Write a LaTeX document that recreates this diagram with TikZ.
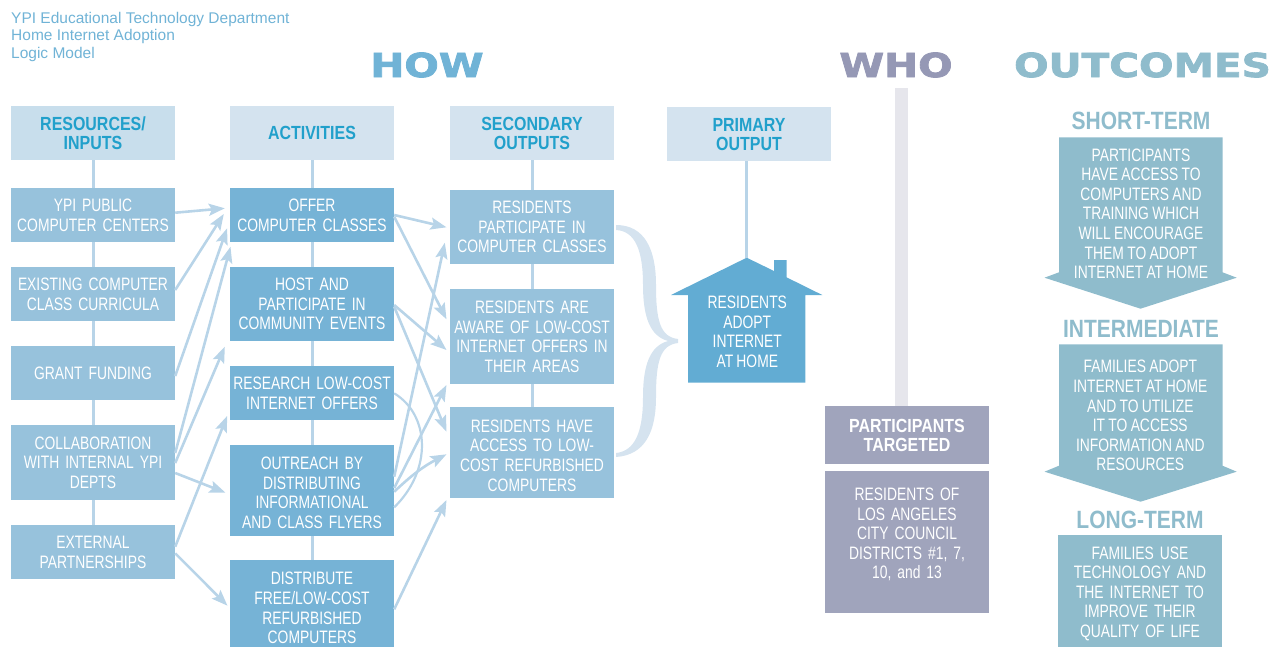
\documentclass[tikz,border=0pt]{standalone}
\usepackage{xcolor}
\usepackage{fontspec}
\usepackage{tikz}
\usetikzlibrary{positioning}
\usetikzlibrary{arrows.meta}
\setmainfont{Liberation Sans}
\newfontfamily\narrowfont[FakeStretch=0.77,WordSpace=0.85]{Liberation Sans}
\newfontfamily\headfont[FakeStretch=0.84]{Liberation Sans}
\newfontfamily\widefont[FakeStretch=1.23,FakeBold=2.5]{DejaVu Sans}
\definecolor{headfirst}{HTML}{C8DEEC}
\definecolor{headrest}{HTML}{D4E3EF}
\definecolor{headtext}{HTML}{21A0CB}
\definecolor{boxlight}{HTML}{97C2DC}
\definecolor{boxdark}{HTML}{76B3D6}
\definecolor{housecol}{HTML}{62ACD3}
\definecolor{linecol}{HTML}{B8D4E8}
\definecolor{bracecol}{HTML}{D5E3EF}
\definecolor{howcol}{HTML}{70B3D6}
\definecolor{whocol}{HTML}{9598B5}
\definecolor{whobox}{HTML}{A0A4BC}
\definecolor{whobar}{HTML}{E6E6EC}
\definecolor{outcol}{HTML}{8FBCCC}
\def\dn#1{\rule{0pt}{#1pt}}
\tikzstyle{plainbox}=[rectangle,anchor=north,minimum width=164pt,text width=164pt,inner sep=0pt,align=center,text=white,font=\narrowfont\fontsize{18}{19.6}\selectfont]
\tikzstyle{headbox}=[plainbox,text=headtext,font=\headfont\bfseries\fontsize{19}{19}\selectfont]
\tikzstyle{plaintext}=[inner sep=0pt,align=center,text=white,font=\narrowfont\fontsize{18}{19.6}\selectfont]
\tikzstyle{bigword}=[inner sep=0pt,font=\widefont\bfseries\fontsize{33}{33}\selectfont]
\tikzstyle{termword}=[inner sep=0pt,text=outcol,font=\headfont\bfseries\fontsize{25}{25}\selectfont]
\tikzstyle{arrowedge}=[draw=linecol,line width=2.6pt,-{Stealth[length=16pt,width=12pt,inset=3pt]}]
\tikzstyle{stemedge}=[draw=linecol,line width=3pt]
\tikzset{noteline/.style={inner sep=0pt,anchor=base west,text=howcol,font=\fontsize{15.5}{15.5}\selectfont}}

\begin{document}
\begin{tikzpicture}[x=1pt,y=-1pt]

  \useasboundingbox (0,0) rectangle (1285,647);

  % title lines
  \foreach \y/\name/\label in {24/noteA/YPI Educational Technology Department, 41/noteB/Home Internet Adoption, 58.7/noteC/Logic Model}
         \node[noteline] (\name) at (11,\y) {\label};

  \node[bigword,text=howcol] (how) at (427,65) {HOW};
  \node[bigword,text=whocol] (who) at (896,65) {WHO};
  \node[bigword,text=outcol] (outcomes) at (1142.5,65) {OUTCOMES};

  % column headers
  \node[headbox,fill=headfirst,minimum height=54pt] (headA) at (93,106) {RESOURCES/\\INPUTS};
  \foreach \x/\y/\name/\label in {312/106/headB/ACTIVITIES, 532/106/headC/{SECONDARY\\OUTPUTS}, 749/107/headD/{PRIMARY\\OUTPUT}}
         \node[headbox,fill=headrest,minimum height=54pt] (\name) at (\x,\y) {\label};

  % resources
  \foreach \y/\h/\name/\label in {188/54/resA/{YPI PUBLIC\\COMPUTER CENTERS}, 267/54/resB/{EXISTING COMPUTER\\CLASS CURRICULA}, 346/54/resC/GRANT FUNDING, 425/75/resD/{COLLABORATION\\WITH INTERNAL YPI\\DEPTS}, 525/54/resE/{EXTERNAL\\PARTNERSHIPS}}
         \node[plainbox,fill=boxlight,minimum height=\h pt] (\name) at (93,\y) {\label};

  % activities
  \foreach \y/\h/\name/\label in {188/54/actA/{OFFER\\COMPUTER CLASSES}, 267/74/actB/{HOST AND\\PARTICIPATE IN\\COMMUNITY EVENTS}, 366/54/actC/{RESEARCH LOW-COST\\INTERNET OFFERS}, 445/91/actD/{\dn{17}OUTREACH BY\\DISTRIBUTING\\INFORMATIONAL\\AND CLASS FLYERS}, 560/87/actE/{\dn{21.3}DISTRIBUTE\\FREE/LOW-COST\\REFURBISHED\\COMPUTERS}}
         \node[plainbox,fill=boxdark,minimum height=\h pt] (\name) at (312,\y) {\label};

  % secondary outputs
  \foreach \y/\h/\name/\label in {190/74/secA/{RESIDENTS\\PARTICIPATE IN\\COMPUTER CLASSES}, 289/95/secB/{RESIDENTS ARE\\AWARE OF LOW-COST\\INTERNET OFFERS IN\\THEIR AREAS}, 407/91/secC/{\dn{18}RESIDENTS HAVE\\ACCESS TO LOW-\\COST REFURBISHED\\COMPUTERS}}
         \node[plainbox,fill=boxlight,minimum height=\h pt] (\name) at (532,\y) {\label};

  % stems between the boxes
  \foreach \source/ \dest in {headA/resA, resA/resB, resB/resC, resC/resD, resD/resE, headB/actA, actA/actB, actB/actC, actC/actD, actD/actE, headC/secA, secA/secB, secB/secC}
         \path[stemedge] (\source) -- (\dest);

  % house
  \fill[housecol] (671,295) -- (746.7,257.7) -- (774,271) -- (774,260) -- (786.7,260) -- (786.7,277.4) -- (822.3,295) -- (805.3,295) -- (805.3,382.7) -- (688,382.7) -- (688,295) -- cycle;
  \coordinate (apex) at (746.7,258);
  \path[stemedge] (apex |- headD.south) -- (apex);
  \node[plaintext] (adopt) at (747.3,331.8) {RESIDENTS\\ADOPT\\INTERNET\\AT HOME};

  % brace
  \fill[bracecol] (616,225) .. controls (645,225) and (656,250) .. (656,285) .. controls (656,320) and (660,337) .. (678,339)
     -- (678,343) .. controls (660,345) and (656,362) .. (656,397) .. controls (656,432) and (645,455) .. (616,457)
     -- (616,453) .. controls (635,451) and (643,432) .. (643,397) .. controls (643,365) and (650,346) .. (668,341)
     .. controls (650,336) and (643,317) .. (643,285) .. controls (643,250) and (635,231) .. (616,230) -- cycle;

  % who
  \node[plainbox,fill=whobox,minimum height=58pt,font=\headfont\bfseries\fontsize{19}{19}\selectfont] (partA) at (907,406) {PARTICIPANTS\\TARGETED};
  \node[plainbox,fill=whobox,minimum height=142pt] (partB) at (907,471) {RESIDENTS OF\\LOS ANGELES\\CITY COUNCIL\\DISTRICTS \#1, 7,\\10, and 13\\[-2pt]~};
  \coordinate (bartop) at (901.5,88);
  \path[draw=whobar,line width=13pt] (bartop) -- (bartop |- partA.north);

  % outcomes
  \node[termword] (shortterm) at (1141,120.7) {SHORT-TERM};
  \node[termword] (midterm) at (1141,329.3) {INTERMEDIATE};
  \node[termword] (longterm) at (1140,520) {LONG-TERM};
  \foreach \top/\sh/\wing/\tip in {137.3/272.3/277.7/308.7, 344.3/465.7/471.7/501.7}
         \fill[outcol] (1059,\top) -- (1222.5,\top) -- (1222.5,\sh) -- (1236.7,\wing) -- (1140.5,\tip) -- (1044.5,\wing) -- (1059,\sh) -- cycle;
  \node[plaintext] (shorttext) at (1141,213.7) {PARTICIPANTS\\HAVE ACCESS TO\\COMPUTERS AND\\TRAINING WHICH\\WILL ENCOURAGE\\THEM TO ADOPT\\INTERNET AT HOME};
  \node[plaintext] (midtext) at (1140.3,415.7) {FAMILIES ADOPT\\INTERNET AT HOME\\AND TO UTILIZE\\IT TO ACCESS\\INFORMATION AND\\RESOURCES};
  \node[plainbox,fill=outcol,minimum height=112pt] (longtext) at (1140,535) {\dn{17.5}FAMILIES USE\\TECHNOLOGY AND\\THE INTERNET TO\\IMPROVE THEIR\\QUALITY OF LIFE};

  % arrows: source / start below its top / dest / gap before its west side / end below its top
  \foreach \source/\sy/\dest/\gap/\dy in {resA/24.7/actA/5/20.3, resB/23/actA/6/26, resC/30/actA/2.7/40.3, resD/28/actA/-0.7/58.7, resD/38/actB/5/79.7, resD/48/actD/4.3/47.7, resE/21.7/actC/2.7/50, resE/28.3/actE/2.3/45.7, actA/27/secA/3.3/37.3, actA/28.7/secB/3.3/30.3, actB/38/secB/3.3/61, actB/39.7/secC/3.3/24.7, actD/31.7/secA/5/52.7, actD/43/secB/3.3/96, actE/49.3/secC/3.3/93}
         \path[arrowedge] ([yshift=-\sy pt]\source.north east) -- ([xshift=-\gap pt,yshift=-\dy pt]\dest.north west);

  \path[arrowedge] ([yshift=-46.7pt]actD.north east) to[bend left=8] ([xshift=-3.3pt,yshift=-47.3pt]secC.north west);
  \path[draw=linecol,line width=2.2pt] ([yshift=-27.3pt]actC.north east) .. controls +(36,22) and +(38,-37) .. ([yshift=-62.3pt]actD.north east);

\end{tikzpicture}
\end{document}
